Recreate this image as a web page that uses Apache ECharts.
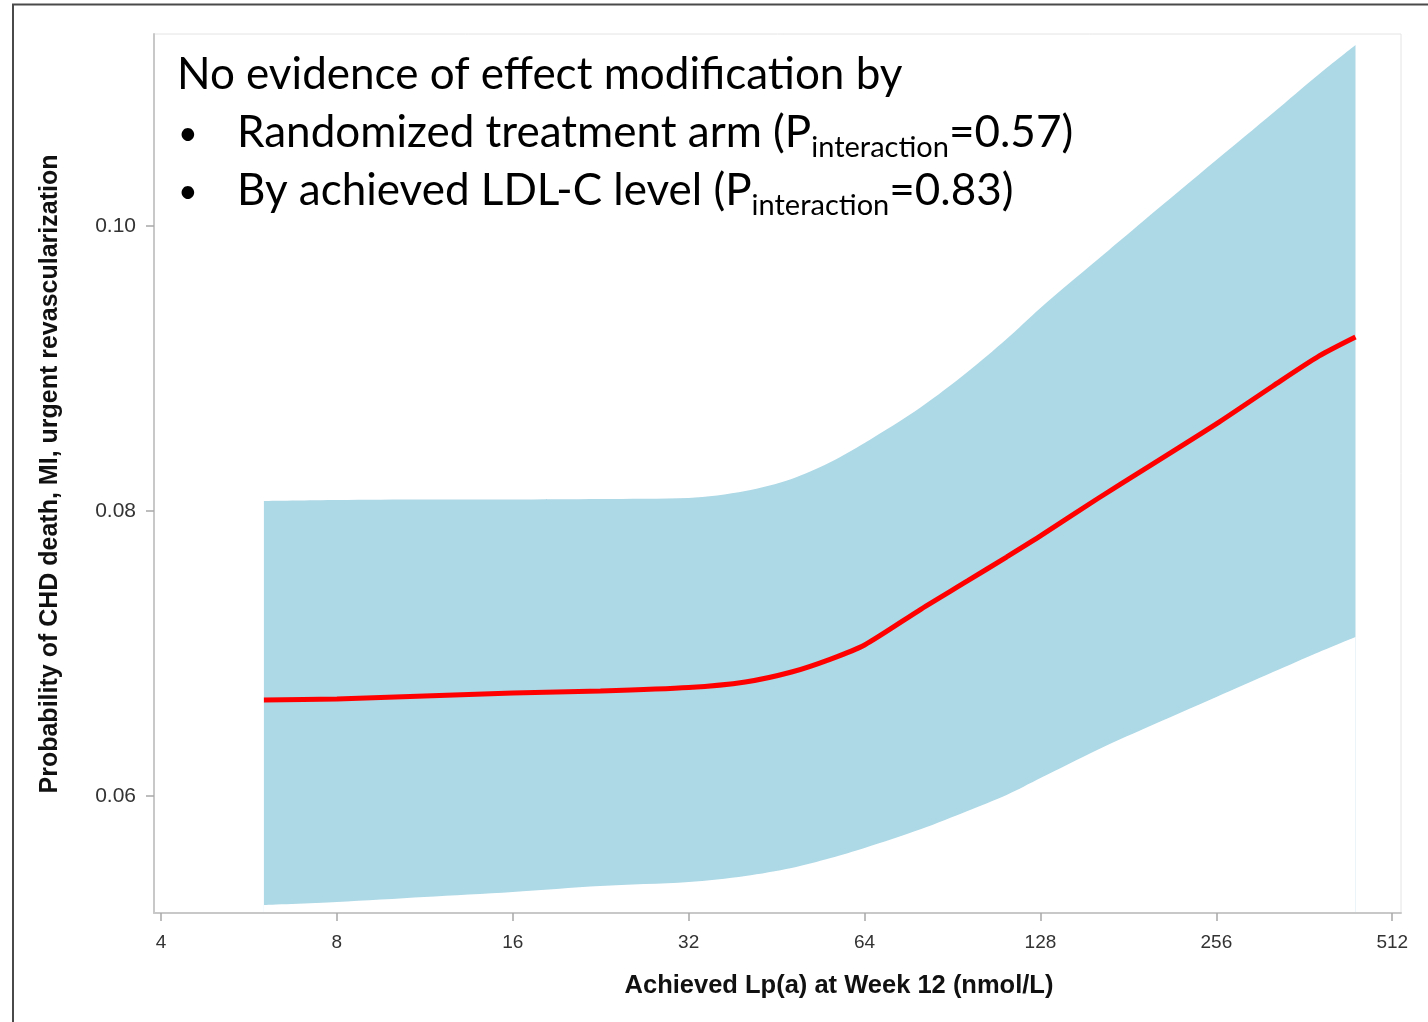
<!DOCTYPE html>
<html>
<head>
<meta charset="utf-8">
<script src="https://cdn.jsdelivr.net/npm/echarts@6/dist/echarts.min.js"></script>
<style>
  html, body { margin: 0; padding: 0; background: #ffffff; }
  #chart { width: 1428px; height: 1022px; }
</style>
</head>
<body>
<div id="chart"></div>
<script>
// Achieved Lp(a) at week 12 (nmol/L), sampled along the fitted curve
const lpa = [6, 8, 11.3, 16, 22.6, 32, 40, 48, 56, 64, 80, 96, 112, 128, 160, 192, 256, 320, 384, 443];
// Estimated probability of CHD death, MI, urgent revascularization
const estimate = [0.06674, 0.06681, 0.06702, 0.06723, 0.06737, 0.06761, 0.06800, 0.06870, 0.06961, 0.07060,
                  0.07312, 0.07509, 0.07677, 0.07825, 0.08084, 0.08288, 0.08611, 0.08877, 0.09088, 0.09221];
// 95% confidence band
const lowerCI = [0.05235, 0.05256, 0.05291, 0.05326, 0.05368, 0.05396, 0.05439, 0.05495, 0.05565, 0.05635,
                 0.05768, 0.05895, 0.06007, 0.06126, 0.06323, 0.06470, 0.06695, 0.06870, 0.07011, 0.07116];
const upperCI = [0.08070, 0.08077, 0.08081, 0.08081, 0.08084, 0.08091, 0.08140, 0.08225, 0.08344, 0.08477,
                 0.08730, 0.08975, 0.09207, 0.09425, 0.09761, 0.10035, 0.10463, 0.10793, 0.11067, 0.11270];
// Axis ticks
const xTicks = [4, 8, 16, 32, 64, 128, 256, 512];
const yTicks = [0.06, 0.08, 0.10];

// x is plotted on a base-2 log scale
const log2 = v => Math.log(v) / Math.LN2;
const X_MIN = 3.891, X_MAX = 530;
const Y_MIN = 0.05179, Y_MAX = 0.11347;

const upperData = lpa.map((x, i) => [log2(x), upperCI[i]]);
const lowerData = lpa.map((x, i) => [log2(x), lowerCI[i]]);
const lineData = lpa.map((x, i) => [log2(x), estimate[i]]);

const tickFont = { fontFamily: 'Liberation Sans, Arial, sans-serif', color: '#333333' };
const mainFont = 'Lato, "Open Sans", sans-serif';
const titleFont = '"Liberation Sans", Arial, sans-serif';

const chart = echarts.init(document.getElementById('chart'), null, { renderer: 'canvas' });

const richStyles = {
  m: { fontSize: 44, fontFamily: mainFont, color: '#000000', verticalAlign: 'middle' },
  s: { fontSize: 29, fontFamily: mainFont, color: '#000000', verticalAlign: 'middle', padding: [30, 0, 0, 0] }
};

chart.setOption({
  animation: false,
  backgroundColor: '#ffffff',
  grid: {
    left: 154, top: 34, right: 27, bottom: 109,
    show: true, borderColor: '#e4e4e4', borderWidth: 1
  },
  xAxis: {
    type: 'value',
    z: 10,
    min: log2(X_MIN), max: log2(X_MAX),
    axisLine: { show: true, lineStyle: { color: '#c8c8c8', width: 2 } },
    axisTick: { show: true, customValues: xTicks.map(log2), length: 8, lineStyle: { color: '#a8a8a8', width: 1.5 } },
    axisLabel: Object.assign({
      customValues: xTicks.map(log2),
      margin: 20,
      fontSize: 19,
      formatter: v => String(Math.round(Math.pow(2, v)))
    }, tickFont),
    splitLine: { show: false }
  },
  yAxis: {
    type: 'value',
    z: 10,
    min: Y_MIN, max: Y_MAX,
    axisLine: { show: true, lineStyle: { color: '#c8c8c8', width: 2 } },
    axisTick: { show: true, customValues: yTicks, length: 8, lineStyle: { color: '#a8a8a8', width: 1.5 } },
    axisLabel: Object.assign({
      customValues: yTicks,
      margin: 18,
      fontSize: 21,
      formatter: v => v.toFixed(2)
    }, tickFont),
    splitLine: { show: false }
  },
  series: [
    {
      // upper bound, filled down to the bottom of the plot
      type: 'line',
      name: 'upper',
      data: upperData,
      z: 1,
      showSymbol: false,
      smooth: 0.3,
      lineStyle: { width: 0, opacity: 0 },
      areaStyle: { color: '#add8e6', opacity: 1, origin: 'start' }
    },
    {
      // lower bound, clears the region beneath the band
      type: 'line',
      name: 'lower',
      data: lowerData,
      z: 2,
      showSymbol: false,
      smooth: 0.3,
      lineStyle: { width: 0, opacity: 0 },
      areaStyle: { color: '#ffffff', opacity: 1, origin: 'start' }
    },
    {
      type: 'line',
      name: 'estimate',
      data: lineData,
      z: 3,
      showSymbol: false,
      smooth: 0.25,
      lineStyle: { color: '#ff0000', width: 5 }
    }
  ],
  graphic: [
    {
      type: 'rect',
      shape: { x: 13, y: 4.5, width: 1440, height: 1040 },
      style: { fill: null, stroke: '#4a4a4a', lineWidth: 2 },
      z: 100
    },
    {
      type: 'text',
      x: 839, y: 986,
      style: {
        text: 'Achieved Lp(a) at Week 12 (nmol/L)',
        align: 'center', verticalAlign: 'middle',
        font: 'bold 25.5px ' + titleFont,
        fill: '#111111'
      }
    },
    {
      type: 'text',
      x: 50, y: 474,
      rotation: Math.PI / 2,
      style: {
        text: 'Probability of CHD death, MI, urgent revascularization',
        align: 'center', verticalAlign: 'middle',
        font: 'bold 25px ' + titleFont,
        fill: '#111111'
      }
    },
    {
      type: 'text',
      x: 177, y: 75,
      z: 50,
      style: {
        text: 'No evidence of effect modification by',
        align: 'left', verticalAlign: 'middle',
        font: '44px ' + mainFont, fill: '#000000'
      }
    },
    {
      type: 'text', x: 178, y: 134, z: 50,
      style: { text: '•', align: 'left', verticalAlign: 'middle', font: '34px ' + mainFont, fill: '#000000' }
    },
    {
      type: 'text', x: 178, y: 192, z: 50,
      style: { text: '•', align: 'left', verticalAlign: 'middle', font: '34px ' + mainFont, fill: '#000000' }
    },
    {
      type: 'text',
      x: 237, y: 133, z: 50,
      style: {
        text: '{m|Randomized treatment arm (P}{s|interaction}{m|=0.57)}',
        align: 'left', verticalAlign: 'middle',
        rich: richStyles
      }
    },
    {
      type: 'text',
      x: 237, y: 191, z: 50,
      style: {
        text: '{m|By achieved LDL-C level (P}{s|interaction}{m|=0.83)}',
        align: 'left', verticalAlign: 'middle',
        rich: richStyles
      }
    }
  ]
});
</script>
</body>
</html>
